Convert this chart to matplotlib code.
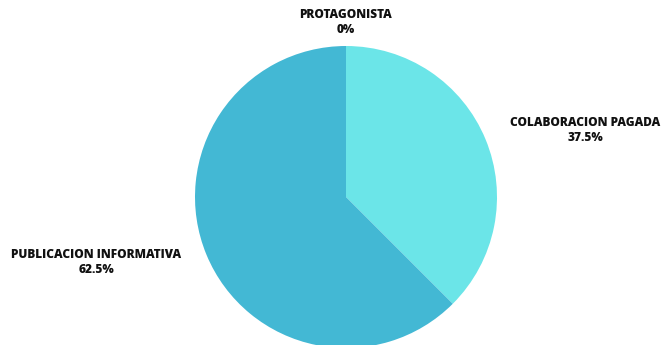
import numpy as np
import matplotlib.pyplot as plt

# datos del grafico
categorias = ['PROTAGONISTA', 'COLABORACION PAGADA', 'PUBLICACION INFORMATIVA']
valores = [0, 37.5, 62.5]
colores = ['#b9eef3', '#6be5e8', '#43b8d4']
# posicion de cada etiqueta (en radios del pastel)
pos_etiquetas = [(0.0, 1.155), (1.585, 0.44), (-1.655, -0.435)]

fig = plt.figure(figsize=(6.61, 3.45), dpi=100)
ax = fig.add_axes([0, 0, 1, 1])

ax.pie(valores, colors=colores, startangle=90, counterclock=False,
       radius=1, wedgeprops={'linewidth': 0})

for cat, v, (x, y) in zip(categorias, valores, pos_etiquetas):
    ax.text(x, y, f'{cat}\n{v:g}%', ha='center', va='center',
            fontsize=8.6, fontweight='heavy', family='Open Sans',
            linespacing=1.3, color='#111111')

# centro en (346, 197) px y radio de 151 px
r = 151
ax.set_xlim(-346 / r, (661 - 346) / r)
ax.set_ylim(-(345 - 197) / r, 197 / r)
ax.set_aspect('auto')
ax.axis('off')

plt.savefig('out.png', dpi=100)
